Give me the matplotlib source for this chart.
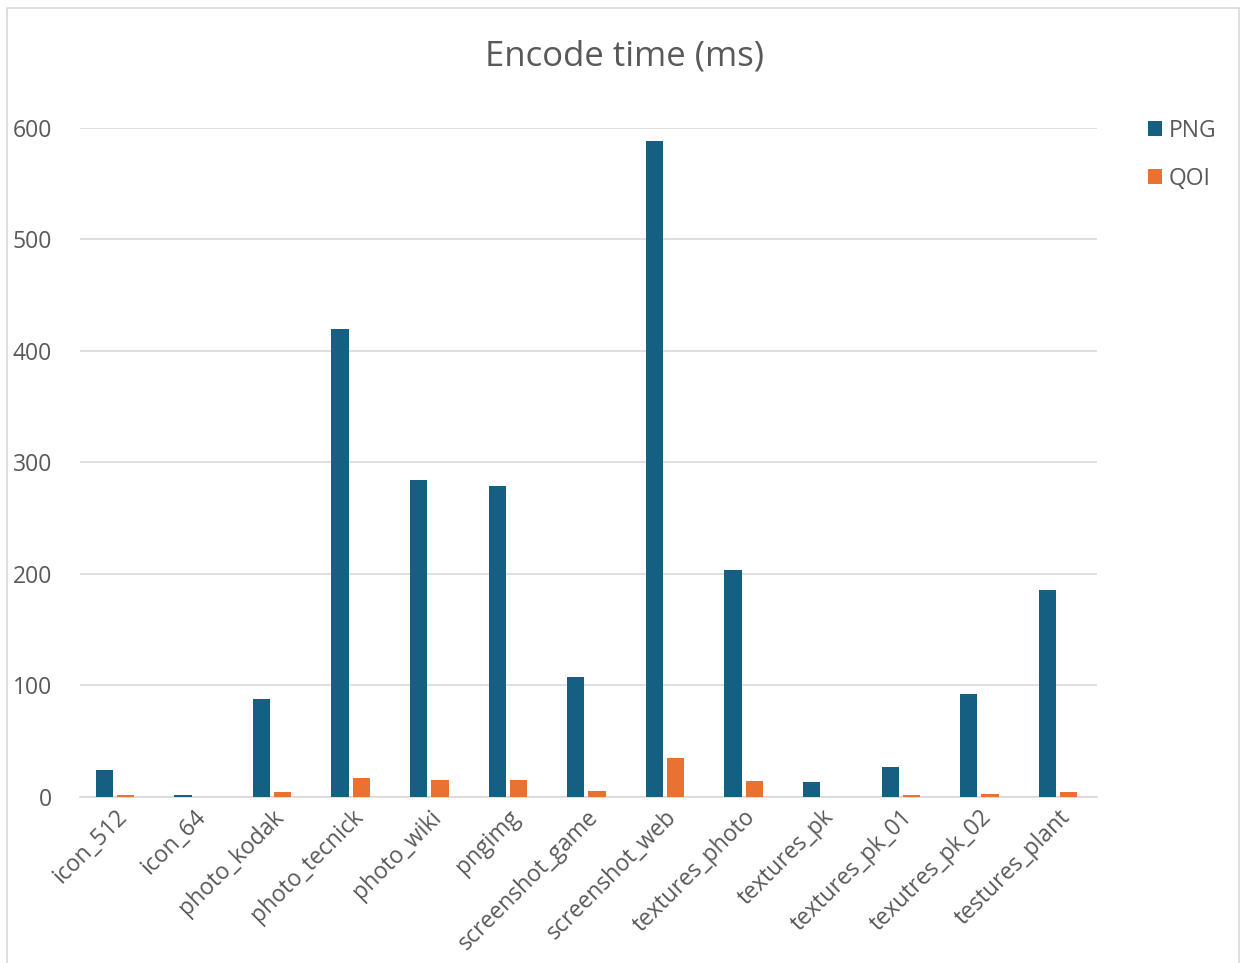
import matplotlib.pyplot as plt
import numpy as np
from matplotlib.patches import Rectangle

plt.rcParams['font.family'] = ['Open Sans', 'DejaVu Sans']

categories = ['icon_512', 'icon_64', 'photo_kodak', 'photo_tecnick', 'photo_wiki',
              'pngimg', 'screenshot_game', 'screenshot_web', 'textures_photo',
              'textures_pk', 'textures_pk_01', 'texutres_pk_02', 'testures_plant']
png_ms = [24, 2, 88, 420, 284, 279, 108, 588, 204, 13, 27, 92, 186]
qoi_ms = [1.5, 0, 4.5, 17, 15, 15, 5.5, 35, 14, 0, 1.5, 3, 4.5]

png_color = '#156082'
qoi_color = '#E97132'
text_color = '#595959'

fig = plt.figure(figsize=(12.44, 9.63), dpi=100)
ax = fig.add_axes([0.064, 0.1724, 0.818, 0.6947])

x = np.arange(len(categories))
w = 0.22
ax.bar(x - 0.135, png_ms, w, color=png_color, label='PNG', zorder=3)
ax.bar(x + 0.135, qoi_ms, w, color=qoi_color, label='QOI', zorder=3)

ax.set_xlim(-0.45, len(categories) - 0.5)
ax.set_ylim(0, 600)
ax.set_yticks(range(0, 601, 100))
ax.yaxis.grid(True, color='#d9d9d9', linewidth=1.2, zorder=0)
ax.set_axisbelow(True)

for s in ['top', 'right', 'left']:
    ax.spines[s].set_visible(False)
ax.spines['bottom'].set_color('#d9d9d9')
ax.spines['bottom'].set_linewidth(1.2)

ax.tick_params(axis='both', length=0, colors=text_color, labelsize=16.5)
ax.tick_params(axis='y', pad=20)
ax.tick_params(axis='x', pad=6)
ax.set_xticks(x)
ax.set_xticklabels(categories, rotation=45, ha='right', va='top',
                   rotation_mode='anchor', color=text_color)

fig.text(0.502, 0.941, 'Encode time (ms)', ha='center', va='center',
         fontsize=25, color=text_color)

ax.legend(loc='upper left', bbox_to_anchor=(1.03, 1.045), frameon=False,
          fontsize=16.5, labelcolor=text_color, handlelength=0.6,
          handleheight=0.6, handletextpad=0.3, labelspacing=1.05)

fig.patches.append(Rectangle((0.006, -0.01), 0.99, 1.002, transform=fig.transFigure,
                             fill=False, edgecolor='#d9d9d9', linewidth=1.2))

fig.savefig('out.png', dpi=100)
